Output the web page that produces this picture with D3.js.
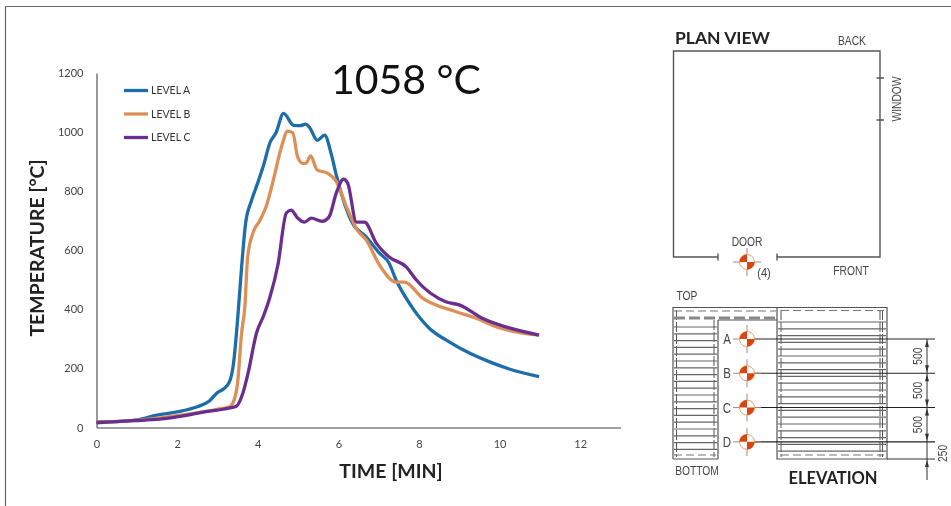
<!DOCTYPE html>
<html>
<head>
<meta charset="utf-8">
<script src="https://cdn.jsdelivr.net/npm/d3@7"></script>
<style>
  html, body { margin: 0; padding: 0; background: #fff; }
  /* the original is a soft scanned figure */
  svg { display: block; font-family: Lato, "Open Sans", sans-serif; filter: blur(0.45px); }
</style>
</head>
<body>
<script>
// temperature curves: [minutes, deg C]
var levelA = [[0,20],[0.5,20],[1,26],[1.5,42],[2,53],[2.5,70],[2.8,90],[3,118],[3.15,130],[3.3,155],[3.4,218],[3.5,364],[3.6,543],[3.7,692],[3.85,770],[4,828],[4.15,890],[4.3,963],[4.45,997],[4.64,1063],[4.89,1023],[5.05,1022],[5.19,1027],[5.28,1017],[5.48,972],[5.66,990],[5.82,928],[5.95,854],[6.35,692],[6.69,645],[7.02,590],[7.26,556],[7.43,500],[7.76,421],[8.25,337],[8.75,290],[9.25,252],[9.74,223],[10.24,198],[10.98,172]];
var levelB = [[0,18],[1,24],[2,40],[2.6,52],[3,62],[3.3,70],[3.38,82],[3.5,150],[3.6,320],[3.68,408],[3.75,577],[3.88,658],[4.05,700],[4.21,748],[4.37,828],[4.59,950],[4.74,1003],[4.87,997],[4.99,916],[5.12,894],[5.2,895],[5.31,919],[5.48,871],[5.73,861],[5.95,832],[6.2,748],[6.47,668],[6.69,635],[7.02,550],[7.43,492],[7.64,492],[8.09,438],[8.92,392],[9.42,370],[9.91,341],[10.98,313]];
var levelC = [[0,16],[0.9,23],[1.57,28],[2.15,39],[2.64,52],[3.3,66],[3.47,72],[3.63,116],[3.76,184],[3.97,320],[4.15,380],[4.3,440],[4.5,550],[4.71,726],[4.83,736],[4.99,709],[5.16,695],[5.33,709],[5.6,698],[5.77,713],[5.95,794],[6.13,841],[6.23,828],[6.45,695],[6.65,695],[6.94,624],[7.26,577],[7.69,543],[7.93,500],[8.68,425],[9,415],[9.57,370],[10.24,337],[10.98,313]];

var seriesNames = ["LEVEL A", "LEVEL B", "LEVEL C"];
var seriesValues = [levelA, levelB, levelC];
var seriesColors = ["#1d6ea8", "#dc9058", "#6a2f8e"];

var xTicks = [0, 2, 4, 6, 8, 10, 12];
var yTicks = [0, 200, 400, 600, 800, 1000, 1200];

// sensor levels on the elevation, and the dimension chain in mm from level A down
var sensorLevels = ["A", "B", "C", "D"];
var dimensions = [500, 500, 500, 250];

var width = 951, height = 506;

var svg = d3.select("body").append("svg")
    .attr("width", width)
    .attr("height", height);

// page frame
svg.append("path")
    .attr("d", "M5.5,506V6.5H951")
    .attr("fill", "none")
    .attr("stroke", "#666")
    .attr("stroke-width", 1.2);

// set the ranges
var x = d3.scaleLinear().domain([0, 13]).range([96.5, 620.5]);
var y = d3.scaleLinear().domain([0, 1200]).range([427.5, 73]);

var chart = svg.append("g");

// axes
var xAxis = chart.append("g")
    .attr("transform", "translate(0," + y(0) + ")")
    .call(d3.axisBottom(x).tickValues(xTicks).tickSize(0).tickPadding(13).tickFormat(d3.format("d")));
var yAxis = chart.append("g")
    .attr("transform", "translate(" + x(0) + ",0)")
    .call(d3.axisLeft(y).tickValues(yTicks).tickSize(0).tickPadding(13).tickFormat(d3.format("d")));

[xAxis, yAxis].forEach(function(a) {
  a.selectAll("path").attr("stroke", "#808080").attr("stroke-width", 1.6);
  a.selectAll("text")
      .attr("fill", "#444")
      .style("font-family", "Lato, sans-serif")
      .style("font-size", "11px");
});

// the lines
var line = d3.line()
    .x(function(d) { return x(d[0]); })
    .y(function(d) { return y(d[1]); })
    .curve(d3.curveMonotoneX);

chart.selectAll(".level")
    .data(seriesValues)
  .enter().append("path")
    .attr("class", "level")
    .attr("d", line)
    .attr("fill", "none")
    .attr("stroke", function(d, i) { return seriesColors[i]; })
    .attr("stroke-width", 3.3)
    .attr("stroke-linejoin", "round");

// legend
var legend = chart.selectAll(".legend")
    .data(seriesNames)
  .enter().append("g")
    .attr("class", "legend")
    .attr("transform", function(d, i) { return "translate(124," + (90.5 + i * 23.5) + ")"; });
legend.append("line")
    .attr("x2", 24)
    .attr("stroke", function(d, i) { return seriesColors[i]; })
    .attr("stroke-width", 3.3);
legend.append("text")
    .attr("x", 27)
    .attr("y", 3.8)
    .attr("fill", "#333")
    .style("font-size", "10.5px")
    .text(function(d) { return d; });

// titles
svg.append("text")
    .attr("transform", "translate(44,248) rotate(-90)")
    .attr("text-anchor", "middle")
    .attr("fill", "#222")
    .style("font-size", "19.5px")
    .style("font-weight", 700)
    .text("TEMPERATURE [°C]");
svg.append("text")
    .attr("x", 391)
    .attr("y", 478)
    .attr("text-anchor", "middle")
    .attr("fill", "#222")
    .style("font-size", "19.5px")
    .style("font-weight", 700)
    .text("TIME [MIN]");
svg.append("text")
    .attr("x", 406)
    .attr("y", 94)
    .attr("text-anchor", "middle")
    .attr("fill", "#111")
    .style("font-size", "41px")
    .text("1058 °C");

// ---- plan view ----
var plan = svg.append("g").attr("fill", "none").attr("stroke", "#555").attr("stroke-width", 1.4);
plan.append("path").attr("d", "M718,257H673.5V51H880V257H777");
plan.append("path").attr("d", "M718,253.5V260.5M777,253.5V260.5M876.5,78H884M876.5,120H884");

// drawing labels are condensed in the original
function label(txt, px, py, size, anchor, rot) {
  var t = svg.append("text")
      .attr("text-anchor", anchor || "middle")
      .attr("fill", "#444")
      .style("font-family", "'Liberation Sans', sans-serif")
      .style("font-size", size + "px")
      .text(txt);
  if (rot) t.attr("transform", "translate(" + px + "," + py + ") rotate(" + rot + ")");
  else t.attr("x", px).attr("y", py);
  t.attr("textLength", t.node().getComputedTextLength() * 0.82)
      .attr("lengthAdjust", "spacingAndGlyphs");
  return t;
}

function sensor(cx, cy) {
  var g = svg.append("g").attr("transform", "translate(" + cx + "," + cy + ")");
  g.append("path").attr("d", "M-14,0H14M0,-14V14").attr("stroke", "#aa8870").attr("stroke-width", 1);
  g.append("circle").attr("r", 7.5).attr("fill", "#fff").attr("stroke", "#e8a070").attr("stroke-width", 1);
  var arc = d3.arc().innerRadius(0).outerRadius(7.5);
  // two opposite quadrants are filled
  [[-Math.PI / 2, 0], [Math.PI / 2, Math.PI]].forEach(function(a) {
    g.append("path")
        .attr("d", arc({startAngle: a[0], endAngle: a[1]}))
        .attr("fill", "#d9440f");
  });
}

svg.append("text")
    .attr("x", 675)
    .attr("y", 43.5)
    .attr("fill", "#222")
    .style("font-size", "17.5px")
    .style("font-weight", 700)
    .text("PLAN VIEW");
label("BACK", 852, 45, 12.5);
label("DOOR", 747, 246, 12.5);
label("(4)", 764, 277, 13.5);
label("FRONT", 851, 275, 12.5);
label("WINDOW", 901, 99, 12.5, "middle", -90);
sensor(747, 262);

// ---- elevation ----
var elev = svg.append("g").attr("fill", "none").attr("stroke", "#555").attr("stroke-width", 1.2);

// mm scale: level A is at 0, bottom edge at 1750
var mm = d3.scaleLinear().domain([0, 1750]).range([339, 459]);
var depths = d3.cumsum([0].concat(dimensions));

function slats(x0, x1, y0, y1) {
  var s = svg.append("g").attr("stroke", "#666").attr("stroke-width", 1.2);
  d3.range(y0, y1, 6.8).forEach(function(v) {
    s.append("line").attr("x1", x0).attr("x2", x1).attr("y1", v).attr("y2", v);
  });
}
slats(674, 717, 327, 452);
slats(778, 886, 322, 455);

elev.append("path").attr("d", "M673,459V307.5H887V459H777V307.5M718,459V320M673,459H718M718,320H777");
elev.append("path").attr("d", "M676.5,310V457M714,320V457M781,310V457M880,310V457M882.5,310V457").attr("stroke-dasharray", "10,2").attr("stroke-width", 1);
elev.append("path").attr("d", "M674,318H776").attr("stroke-dasharray", "11,4").attr("stroke-width", 3).attr("stroke", "#888");
elev.append("path").attr("d", "M674,311H776M781,310.5H884M674,455H716M781,455H884").attr("stroke-dasharray", "8,4").attr("stroke", "#777");

sensorLevels.forEach(function(lev, i) {
  var cy = mm(depths[i]);
  svg.append("line")
      .attr("x1", 747).attr("x2", 935)
      .attr("y1", cy).attr("y2", cy)
      .attr("stroke", "#222").attr("stroke-width", 1.1);
  sensor(747, cy);
  label(lev, 727, cy + 5, 14);
});

// dimension chain
svg.append("line").attr("x1", 887).attr("x2", 935).attr("y1", mm(1750)).attr("y2", mm(1750)).attr("stroke", "#333");
svg.append("line").attr("x1", 927).attr("x2", 927).attr("y1", mm(0)).attr("y2", 480).attr("stroke", "#333");
dimensions.forEach(function(d, i) {
  var y0 = mm(depths[i]), y1 = mm(depths[i + 1]);
  if (d === 500) {
    label(d, 922, (y0 + y1) / 2, 12.5, "middle", -90);
    svg.append("path")
        .attr("d", "M927," + (y0 + 1) + "l-2,7h4zM927," + (y1 - 1) + "l-2,-7h4z")
        .attr("fill", "#333");
  } else {
    label(d, 947, (y0 + y1) / 2 + 3, 12.5, "middle", -90);
  }
});
svg.append("path").attr("d", "M927,460l-2,7h4z").attr("fill", "#333");

label("TOP", 687, 300, 12.5);
label("BOTTOM", 697, 475, 12.5);
svg.append("text")
    .attr("x", 833)
    .attr("y", 484)
    .attr("text-anchor", "middle")
    .attr("fill", "#222")
    .style("font-size", "16.5px")
    .style("font-weight", 700)
    .text("ELEVATION");
</script>
</body>
</html>
